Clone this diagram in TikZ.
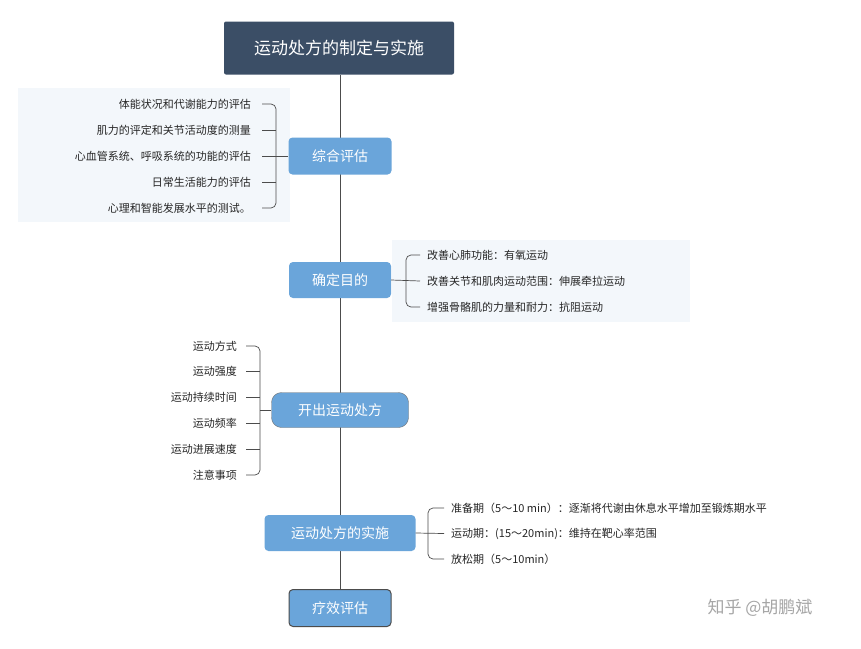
\documentclass[tikz,border=0pt]{standalone}
\usepackage{fontspec}
\setmainfont{Noto Sans CJK SC}
\begin{document}
\begin{tikzpicture}[x=1pt,y=-1pt,
  topic/.style={fill=boxblue,text=white,rounded corners=4pt,font=\fontsize{14}{16}\selectfont,inner sep=0pt},
  item/.style={font=\fontsize{11}{13}\selectfont,text=black!85,inner sep=1pt},
  conn/.style={draw=black!70,line width=0.7pt},
  brk/.style={conn,rounded corners=5pt}]
\definecolor{boxblue}{HTML}{6AA5DA}
\definecolor{titlec}{HTML}{3B4E66}
\definecolor{panel}{HTML}{F3F7FB}
\useasboundingbox (0,0) rectangle (861,648);
\fill[white] (0,0) rectangle (861,648);
% panels
\fill[panel] (18,88) rectangle (290,222);
\fill[panel] (392,240) rectangle (690,322);
% spine
\coordinate (top) at (340,75);
\coordinate (bot) at (340,592);
\draw[conn] (top) -- (bot);
% title
\node[fill=titlec,text=white,rounded corners=2pt,minimum width=230pt,minimum height=53pt,font=\fontsize{17}{20}\selectfont] (title) at (339,48) {运动处方的制定与实施};
% topics
\node[topic,minimum width=103pt,minimum height=37pt] (a) at (340,156) {综合评估};
\node[topic,minimum width=102pt,minimum height=36pt] (b) at (340,280) {确定目的};
\node[topic,draw=black!55,rounded corners=10pt,minimum width=137pt,minimum height=35pt] (c) at (340,410) {开出运动处方};
\node[topic,minimum width=151pt,minimum height=36pt] (d) at (340,533) {运动处方的实施};
\node[topic,draw=black!70,line width=1pt,minimum width=102pt,minimum height=37pt] (e) at (340,608) {疗效评估};
% list A
\foreach \t [count=\i] in {体能状况和代谢能力的评估,肌力的评定和关节活动度的测量,心血管系统、呼吸系统的功能的评估,日常生活能力的评估,心理和智能发展水平的测试。}{
  \node[item,anchor=east] (a\i) at (252,{104+26*(\i-1)}) {\t};
}
\draw[brk] (a1.east)++(10,0) -- ++(14,0) |- ([xshift=10]a5.east);
\foreach \i in {2,3,4}{\draw[conn] ([xshift=10]a\i.east) -- ++(14,0);}
\draw[conn] ([xshift=10]a3.east)++(14,0) -- (a.west);
% list B
\foreach \t [count=\i] in {改善心肺功能：有氧运动,改善关节和肌肉运动范围：伸展牵拉运动,增强骨骼肌的力量和耐力：抗阻运动}{
  \node[item,anchor=west] (b\i) at (426,{255+26*(\i-1)}) {\t};
}
\draw[brk] ([xshift=-6]b1.west) -- ++(-14,0) |- ([xshift=-6]b3.west);
\draw[conn] (b.east) -- ([xshift=-6]b2.west);
% list C
\foreach \t [count=\i] in {运动方式,运动强度,运动持续时间,运动频率,运动进展速度,注意事项}{
  \node[item,anchor=east] (c\i) at (238,{346+25.8*(\i-1)}) {\t};
}
\draw[brk] ([xshift=8]c1.east) -- ++(14,0) |- ([xshift=8]c6.east);
\foreach \i in {2,3,4,5}{\draw[conn] ([xshift=8]c\i.east) -- ++(14,0);}
\coordinate (cj) at (260,410);
\draw[conn] (cj) -- (c.west);
% list D
\foreach \t [count=\i] in {准备期（5～10 min）：逐渐将代谢由休息水平增加至锻炼期水平,运动期：(15～20min)：维持在靶心率范围,放松期（5～10min）}{
  \node[item,anchor=west] (d\i) at (450,{508+25.5*(\i-1)}) {\t};
}
\draw[brk] ([xshift=-6]d1.west) -- ++(-16,0) |- ([xshift=-6]d3.west);
\draw[conn] (d.east) -- ([xshift=-6]d2.west);
% watermark
\node[text=black!35,font=\fontsize{17}{20}\selectfont] (wm) at (760,608) {知乎 @胡鹏斌};
\end{tikzpicture}
\end{document}
